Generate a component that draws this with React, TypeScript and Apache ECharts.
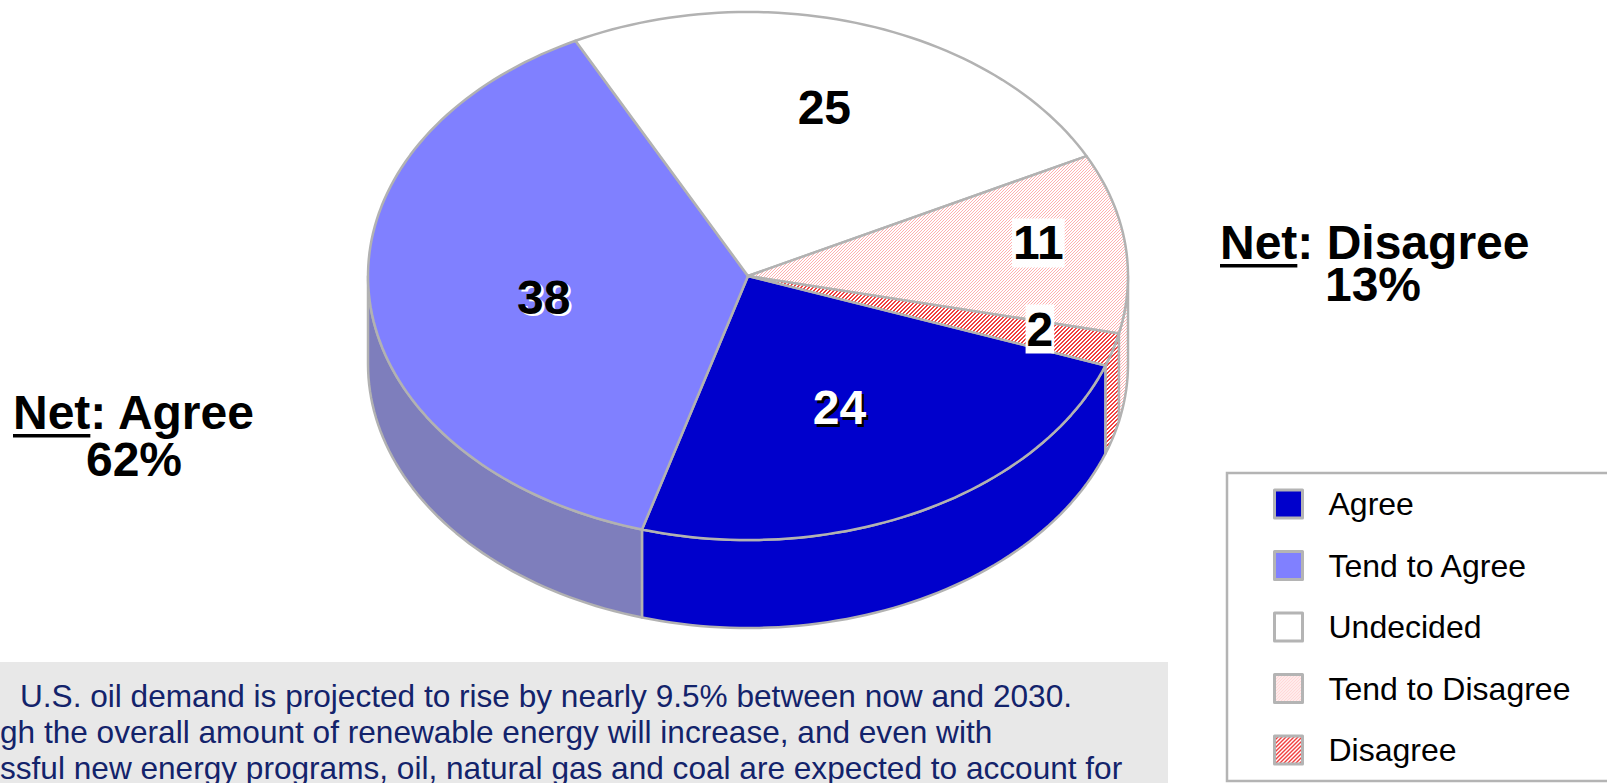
import React, { useEffect, useRef } from 'react';
import * as echarts from 'echarts';

// ---------- data ----------
const categories = ['Agree', 'Tend to Agree', 'Undecided', 'Tend to Disagree', 'Disagree'];
const values = [24, 38, 25, 11, 2];
const netTitles = ['Net: Agree', 'Net: Disagree'];
const netUnderlined = ['Net', 'Net'];
const netValues = ['62%', '13%'];
const noteLines = [
  'U.S. oil demand is projected to rise by nearly 9.5% between now and 2030.',
  'gh the overall amount of renewable energy will increase, and even with',
  'ssful new energy programs, oil, natural gas and coal are expected to account for',
];

// ---------- layout / style ----------
const W = 1607;
const H = 783;
const CX = 748;
const CY = 276;
const RX = 380;
const RY = 264;
const DEPTH = 88;
const START_ANGLE = 19.8; // screen degrees, clockwise
const EDGE = '#B2B2B2';
const FONT = '"Liberation Sans", Arial, Helvetica, sans-serif';
// label placement as fraction of the radii along the slice's mid angle
const labelFractions = [
  [0.53, 0.56],
  [0.54, 0.85],
  [0.65, 0.67],
  [0.77, 1.0],
  [0.8, 0.72],
];
const labelKinds = ['whiteOnShadow', 'blackOnWhiteShadow', 'plain', 'boxed', 'boxed'];

function makeHatch(bg: string, fg: string, step: number, thick: number) {
  const c = document.createElement('canvas');
  c.width = step;
  c.height = step;
  const ctx = c.getContext('2d')!;
  ctx.fillStyle = bg;
  ctx.fillRect(0, 0, step, step);
  ctx.fillStyle = fg;
  for (let i = 0; i < step; i++) {
    for (let t = 0; t < thick; t++) {
      ctx.fillRect(i, (step - 1 - i + t) % step, 1, 1);
    }
  }
  return { image: c.toDataURL(), repeat: 'repeat', imageWidth: step, imageHeight: step } as any;
}

function measure(text: string, font: string) {
  const c = document.createElement('canvas');
  const ctx = c.getContext('2d')!;
  ctx.font = font;
  return ctx.measureText(text).width;
}

export default function App() {
  const ref = useRef<HTMLDivElement>(null);

  useEffect(() => {
    if (!ref.current) return;
    const chart = echarts.init(ref.current, null, { renderer: 'svg' });

    const lightHatch = makeHatch('#FFFFFF', '#FFB0B0', 3, 1);
    const denseHatch = makeHatch('#FFFFFF', '#F04040', 4, 2);
    const topColors: any[] = ['#0000CC', '#8080FF', '#FFFFFF', lightHatch, denseHatch];
    const sideColors: any[] = ['#0000CC', '#7E7EBC', '#E6E6E6', lightHatch, denseHatch];

    const total = values.reduce((a, b) => a + b, 0);
    const starts: number[] = [];
    let acc = 0;
    values.forEach((v) => {
      starts.push(START_ANGLE + (acc / total) * 360);
      acc += v;
    });

    const pt = (deg: number, dy = 0) => {
      const r = (deg * Math.PI) / 180;
      return [CX + RX * Math.cos(r), CY + RY * Math.sin(r) + dy];
    };
    const arc = (a0: number, a1: number, dy = 0) => {
      const n = Math.max(2, Math.ceil((a1 - a0) / 1.5));
      const pts: number[][] = [];
      for (let i = 0; i <= n; i++) pts.push(pt(a0 + ((a1 - a0) * i) / n, dy));
      return pts;
    };
    const visibleRanges = (a0: number, a1: number) => {
      const out: number[][] = [];
      for (let k = -1; k <= 2; k++) {
        const lo = Math.max(a0, 360 * k);
        const hi = Math.min(a1, 360 * k + 180);
        if (hi > lo) out.push([lo, hi]);
      }
      return out;
    };

    const renderItem = (params: any, api: any) => {
      const i = params.dataIndex;
      const v = api.value(0);
      const a0 = starts[i];
      const a1 = a0 + (v / total) * 360;
      const children: any[] = [];

      // side walls
      visibleRanges(a0, a1).forEach(([lo, hi]) => {
        const top = arc(lo, hi, 0);
        const bottom = arc(lo, hi, DEPTH).reverse();
        children.push({
          type: 'polygon',
          shape: { points: top.concat(bottom) },
          style: { fill: sideColors[i], stroke: EDGE, lineWidth: 2.5, lineJoin: 'round' },
          z2: 1,
        });
      });

      // top face
      children.push({
        type: 'polygon',
        shape: { points: [[CX, CY]].concat(arc(a0, a1, 0)) },
        style: { fill: topColors[i], stroke: EDGE, lineWidth: 2.5, lineJoin: 'round' },
        z2: 5,
      });

      // label
      const mid = ((a0 + a1) / 2) * (Math.PI / 180);
      const [fx, fy] = labelFractions[i];
      const lx = CX + RX * Math.cos(mid) * fx;
      const ly = CY + RY * Math.sin(mid) * fy;
      const txt = String(v);
      const base = {
        text: txt,
        fontSize: 48,
        fontWeight: 'bold',
        fontFamily: FONT,
        align: 'center',
        verticalAlign: 'middle',
      };
      const kind = labelKinds[i];
      if (kind === 'whiteOnShadow') {
        children.push({ type: 'text', x: lx + 2.5, y: ly + 2.5, style: { ...base, fill: '#000000' }, z2: 10 });
        children.push({ type: 'text', x: lx, y: ly, style: { ...base, fill: '#FFFFFF' }, z2: 11 });
      } else if (kind === 'blackOnWhiteShadow') {
        children.push({ type: 'text', x: lx + 2.5, y: ly + 2.5, style: { ...base, fill: '#FFFFFF' }, z2: 10 });
        children.push({ type: 'text', x: lx, y: ly, style: { ...base, fill: '#000000' }, z2: 11 });
      } else if (kind === 'boxed') {
        children.push({
          type: 'text',
          x: lx,
          y: ly,
          style: { ...base, fill: '#000000', backgroundColor: '#FFFFFF', padding: [2, 1, 2, 1], lineHeight: 45 },
          z2: 12,
        });
      } else {
        children.push({ type: 'text', x: lx, y: ly, style: { ...base, fill: '#000000' }, z2: 11 });
      }
      return { type: 'group', children };
    };

    const NET_SIZE = 48;
    const netFont = `bold ${NET_SIZE}px ${FONT}`;
    const netPos = [
      { x: 13, titleBase: 429, valueX: 134, valueBase: 476 },
      { x: 1220, titleBase: 259, valueX: 1373, valueBase: 301 },
    ];

    const graphics: any[] = [
      { type: 'rect', shape: { x: 0, y: 662, width: 1168, height: 130 }, style: { fill: '#E8E8E8' }, silent: true },
      ...noteLines.map((t, k) => ({
        type: 'text',
        x: k === 0 ? 20 : 0,
        y: 696 + k * 36,
        style: { text: t, fill: '#13236B', fontSize: 31.6, fontFamily: FONT, align: 'left', verticalAlign: 'middle', lineHeight: 32 },
      })),
      {
        type: 'rect',
        shape: { x: 1227, y: 473, width: 420, height: 308 },
        style: { fill: '#FFFFFF', stroke: '#B4B4B4', lineWidth: 2.5 },
        z: -1,
      },
    ];
    netPos.forEach((p, k) => {
      graphics.push({
        type: 'text',
        x: p.x,
        y: p.titleBase - 16.5,
        style: { text: netTitles[k], fill: '#000', fontSize: NET_SIZE, fontWeight: 'bold', fontFamily: FONT, align: 'left', verticalAlign: 'middle', lineHeight: 38 },
      });
      graphics.push({
        type: 'rect',
        shape: { x: p.x, y: p.titleBase + 5, width: measure(netUnderlined[k], netFont), height: 3.5 },
        style: { fill: '#000' },
      });
      graphics.push({
        type: 'text',
        x: p.valueX,
        y: p.valueBase - 16.5,
        style: { text: netValues[k], fill: '#000', fontSize: NET_SIZE, fontWeight: 'bold', fontFamily: FONT, align: 'center', verticalAlign: 'middle', lineHeight: 38 },
      });
    });

    const option: any = {
      animation: false,
      backgroundColor: '#FFFFFF',
      legend: {
        orient: 'vertical',
        left: 1273,
        top: 488,
        padding: 0,
        itemWidth: 28,
        itemHeight: 28,
        itemGap: 29.5,
        icon: 'rect',
        selectedMode: false,
        data: categories,
        itemStyle: { borderColor: '#B4B4B4', borderWidth: 3 },
        textStyle: { fontSize: 32, color: '#000', fontFamily: FONT, padding: [0, 0, 0, 21] },
      },
      graphic: { elements: graphics },
      series: [
        {
          type: 'pie',
          name: 'legendSource',
          center: [-500, -500],
          radius: [0, 1],
          silent: true,
          label: { show: false },
          labelLine: { show: false },
          data: categories.map((name, i) => ({ name, value: values[i], itemStyle: { color: topColors[i] } })),
        },
        {
          type: 'custom',
          name: 'pie3d',
          coordinateSystem: 'none',
          silent: true,
          renderItem,
          data: values.map((v, i) => ({ name: categories[i], value: [v] })),
        },
      ],
    };

    chart.setOption(option);
    return () => chart.dispose();
  }, []);

  return (
    <div
      ref={ref}
      style={{ position: 'fixed', left: 0, top: 0, width: W, height: H, background: '#FFFFFF' }}
    />
  );
}
